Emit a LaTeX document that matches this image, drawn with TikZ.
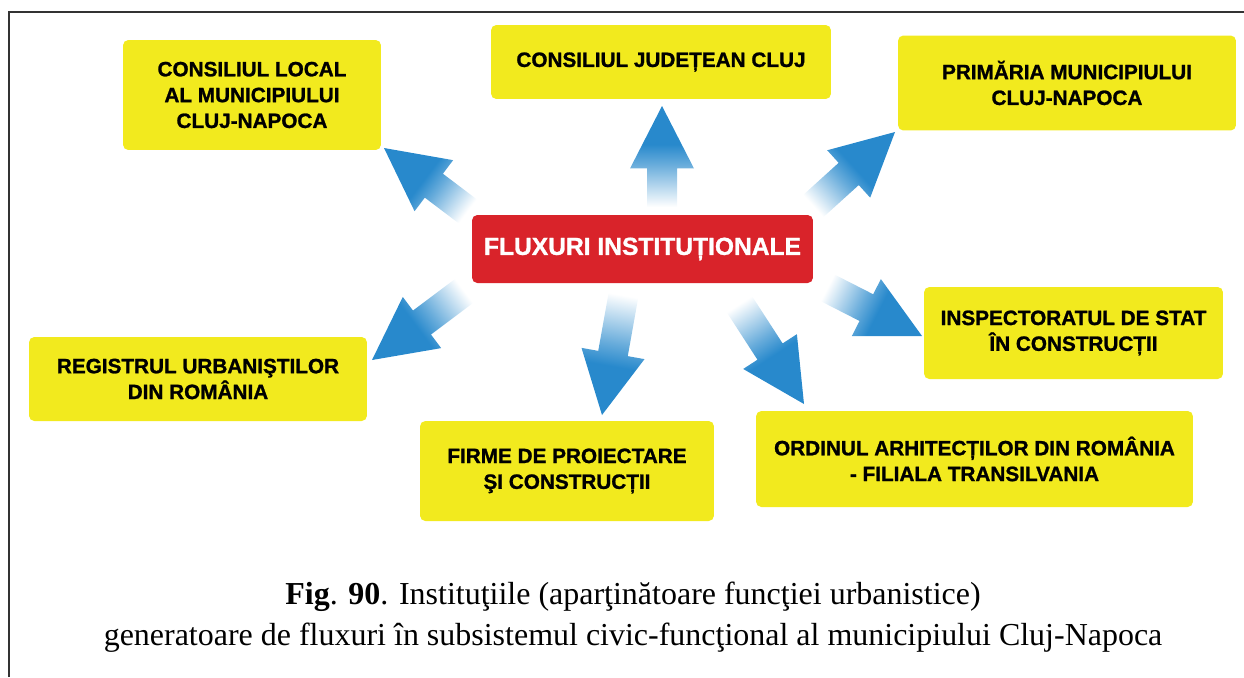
\documentclass[tikz,border=0pt]{standalone}
\usepackage{fontspec}
\setmainfont{Liberation Serif}
\setsansfont{Liberation Sans}[BoldFeatures={FakeBold=1.2}]
\usetikzlibrary{calc}
\definecolor{fxyellow}{HTML}{F2EA1E}
\definecolor{fxred}{HTML}{D9232A}
\definecolor{fxblue}{HTML}{2889CC}
\definecolor{fxframe}{HTML}{333333}
\pgfdeclareverticalshading{fxfade}{100bp}{
  color(0bp)=(white); color(25bp)=(white); color(46bp)=(fxblue!70);
  color(56bp)=(fxblue); color(100bp)=(fxblue)}
\tikzset{
  fxbox/.style={
    fill=fxyellow, rounded corners=3pt, align=center, inner sep=0pt,
    font=\sffamily\bfseries\fontsize{11.8}{14.7}\selectfont, text=black},
  fxcore/.style={
    fill=fxred, rounded corners=3pt, inner sep=0pt,
    font=\sffamily\bfseries\fontsize{14}{16}\selectfont, text=white},
  fxcaption/.style={align=center, font=\fontsize{18.2}{23.5}\selectfont},
  fxframeline/.style={draw=fxframe, line width=1.2pt},
}
% shaded flow arrow: #1 tail, #2 tip, #3 shading angle
\newcommand{\fxflow}[3]{%
  \coordinate (fxbase) at ($(#2)!1.25cm!(#1)$);
  \shade[shading=fxfade, shading angle=#3]
    ($(#1)!0.3cm!-90:(#2)$) -- ($(fxbase)!0.3cm!-90:(#2)$)
    -- ($(fxbase)!0.64cm!-90:(#2)$) -- (#2)
    -- ($(fxbase)!0.64cm!90:(#2)$) -- ($(fxbase)!0.3cm!90:(#2)$)
    -- ($(#1)!0.3cm!90:(#2)$) -- cycle;
}

\begin{document}
\begin{tikzpicture}[x=0.02cm, y=-0.02cm]
\useasboundingbox (0,0) rectangle (1244,677);

% Frame.
\draw[fxframeline] (9,677) -- (9,12) -- (1244,12);

% Arrows leaving the centre.
\coordinate (tJud) at (662,207);    \coordinate (hJud) at (662,106);
\coordinate (tLocal) at (470,213);  \coordinate (hLocal) at (384,148);
\coordinate (tPrim) at (810,209);   \coordinate (hPrim) at (895,132);
\coordinate (tReg) at (468,288);    \coordinate (hReg) at (372,360);
\coordinate (tFirme) at (624,292);  \coordinate (hFirme) at (602,415);
\coordinate (tOrd) at (736,299);    \coordinate (hOrd) at (804,404);
\coordinate (tInsp) at (824,286);   \coordinate (hInsp) at (922,336);
\fxflow{tJud}{hJud}{0}
\fxflow{tLocal}{hLocal}{53.1}
\fxflow{tPrim}{hPrim}{-47.8}
\fxflow{tReg}{hReg}{126.9}
\fxflow{tFirme}{hFirme}{169.8}
\fxflow{tOrd}{hOrd}{-147}
\fxflow{tInsp}{hInsp}{-117}

% Centre and institutions.
\node[fxcore, minimum width=6.82cm, minimum height=1.36cm]
  (core) at (642.5,249) {FLUXURI INSTITUȚIONALE};
\node[fxbox, minimum width=5.16cm, minimum height=2.2cm]
  (local) at (252,95) {CONSILIUL LOCAL\\AL MUNICIPIULUI\\CLUJ-NAPOCA};
\node[fxbox, minimum width=6.8cm, minimum height=1.48cm]
  (jud) at (661,62) {CONSILIUL JUDEȚEAN CLUJ};
\node[fxbox, minimum width=6.76cm, minimum height=1.9cm]
  (prim) at (1067,83) {PRIMĂRIA MUNICIPIULUI\\CLUJ-NAPOCA};
\node[fxbox, minimum width=6.76cm, minimum height=1.68cm]
  (reg) at (198,379) {REGISTRUL URBANIŞTILOR\\DIN ROMÂNIA};
\node[fxbox, minimum width=5.88cm, minimum height=2.0cm]
  (firme) at (567,471) {FIRME DE PROIECTARE\\ŞI CONSTRUCȚII};
\node[fxbox, minimum width=5.98cm, minimum height=1.84cm]
  (insp) at (1073.5,333) {INSPECTORATUL DE STAT\\ÎN CONSTRUCȚII};
\node[fxbox, minimum width=8.74cm, minimum height=1.92cm]
  (ord) at (974.5,459) {ORDINUL ARHITECȚILOR DIN ROMÂNIA\\- FILIALA TRANSILVANIA};

% Caption.
\node[fxcaption] (caption) at (633,617)
  {\textbf{Fig}. \textbf{90}. Instituţiile (aparţinătoare funcţiei urbanistice)\\
   generatoare de fluxuri în subsistemul civic-funcţional al municipiului Cluj-Napoca};

\end{tikzpicture}
\end{document}
